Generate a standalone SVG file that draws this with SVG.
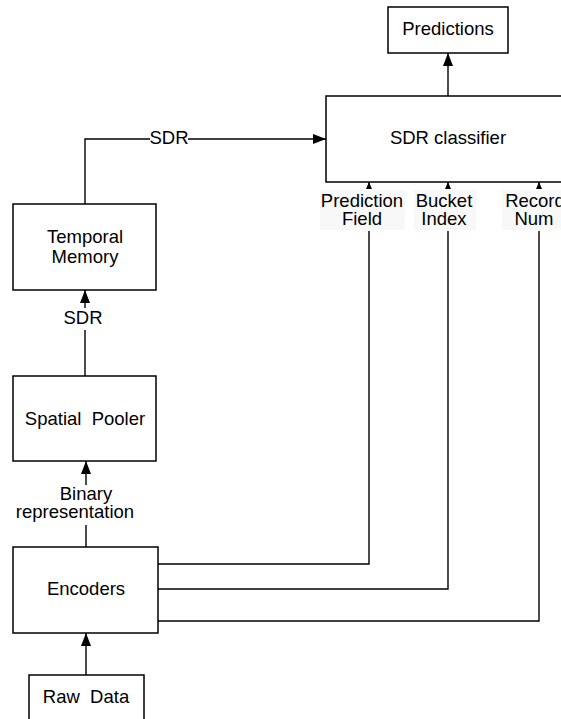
<svg xmlns="http://www.w3.org/2000/svg" width="561" height="719" viewBox="0 0 561 719">
<defs>
<marker id="ah" markerUnits="userSpaceOnUse" markerWidth="14" markerHeight="10" refX="13" refY="5" orient="auto">
<path d="M0,0 L13,5 L0,10 Z" fill="#000"/>
</marker>
<marker id="as" markerUnits="userSpaceOnUse" markerWidth="8" markerHeight="6" refX="7" refY="3" orient="auto">
<path d="M0,0 L7,3 L0,6 Z" fill="#000"/>
</marker>
</defs>
<style>
rect.n{fill:#fff;stroke:#000;stroke-width:1.5}
text{font-family:"Liberation Sans",Arial,sans-serif;font-size:18.5px;fill:#000;text-anchor:middle}
.c line,.c path{stroke:#000;stroke-width:1.4;fill:none}
rect.lb{fill:#f8f8f8;stroke:none}
</style>
<rect width="561" height="719" fill="#fff"/>
<g class="c" id="connectors">
<line x1="448" y1="96" x2="448" y2="53" marker-end="url(#ah)"/>
<path d="M85,204 V139 H150"/>
<line x1="188" y1="139" x2="326" y2="139" marker-end="url(#ah)"/>
<line x1="85" y1="376" x2="85" y2="330"/>
<line x1="85" y1="308" x2="85" y2="290" marker-end="url(#ah)"/>
<line x1="86" y1="547" x2="86" y2="525"/>
<line x1="86" y1="485" x2="86" y2="461" marker-end="url(#ah)"/>
<line x1="86" y1="675" x2="86" y2="633" marker-end="url(#ah)"/>
<path d="M158,564 H369 V231"/>
<path d="M158,589 H448 V231"/>
<path d="M158,621 H539 V231"/>
<line x1="369" y1="189" x2="369" y2="182" marker-end="url(#as)"/>
<line x1="448" y1="189" x2="448" y2="182" marker-end="url(#as)"/>
<line x1="539" y1="189" x2="539" y2="182" marker-end="url(#as)"/>
</g>
<g id="labels">
<text x="169" y="144">SDR</text>
<text x="83" y="324">SDR</text>
<text x="86" y="500">Binary</text>
<text x="75" y="518">representation</text>
<rect class="lb" x="320" y="190" width="85" height="40"/>
<text x="362" y="207">Prediction</text>
<text x="362" y="225">Field</text>
<rect class="lb" x="414" y="190" width="62" height="40"/>
<text x="444" y="207">Bucket</text>
<text x="444" y="225">Index</text>
<rect class="lb" x="502" y="190" width="59" height="40"/>
<text x="535" y="207">Record</text>
<text x="534" y="225">Num</text>
</g>
<g id="predictions">
<rect class="n" x="388" y="7" width="120" height="46"/>
<text x="448" y="35">Predictions</text>
</g>
<g id="sdr-classifier">
<rect class="n" x="326" y="96" width="260" height="86"/>
<text x="448" y="144">SDR classifier</text>
</g>
<g id="temporal-memory">
<rect class="n" x="13" y="204" width="143" height="86"/>
<text x="85" y="243">Temporal</text>
<text x="85" y="263">Memory</text>
</g>
<g id="spatial-pooler">
<rect class="n" x="13" y="376" width="143" height="85"/>
<text x="85" y="425" xml:space="preserve">Spatial  Pooler</text>
</g>
<g id="encoders">
<rect class="n" x="13" y="547" width="145" height="86"/>
<text x="86" y="595">Encoders</text>
</g>
<g id="raw-data">
<rect class="n" x="29" y="675" width="115" height="60"/>
<text x="86" y="703" xml:space="preserve">Raw  Data</text>
</g>
</svg>
